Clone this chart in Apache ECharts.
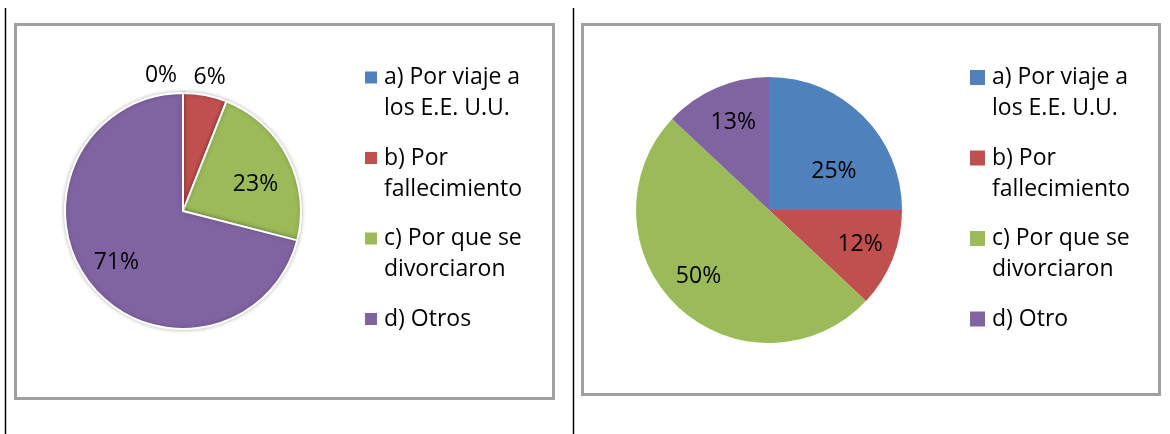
<!DOCTYPE html>
<html>
<head>
<meta charset="utf-8">
<script src="https://cdn.jsdelivr.net/npm/echarts@6/dist/echarts.min.js"></script>
<style>
  html, body { margin: 0; padding: 0; background: #fff; }
  #main { width: 1170px; height: 434px; }
</style>
</head>
<body>
<div id="main"></div>
<script>
// datos
const leftNames = ['a) Por viaje a\nlos E.E. U.U.', 'b) Por\nfallecimiento', 'c) Por que se\ndivorciaron', 'd) Otros'];
const leftValues = [0, 6, 23, 71];
const rightNames = ['a) Por viaje a\nlos E.E. U.U.', 'b) Por\nfallecimiento', 'c) Por que se\ndivorciaron', 'd) Otro'];
const rightValues = [25, 12, 50, 13];
const colors = ['#4F81BD', '#C0504D', '#9BBB59', '#8064A2'];

const FONT = '"Open Sans", sans-serif';

let myChart = echarts.init(document.getElementById('main'));

// leyenda con cuadrito de color en la primera linea
function makeLegend(names, left, sq) {
    let rich = {
        e: { width: sq },
        t: { fontFamily: FONT, fontSize: 23, lineHeight: 31, color: '#000', padding: [0, 0, 0, 7] }
    };
    colors.forEach((c, i) => {
        rich['s' + i] = { width: sq, height: sq, backgroundColor: c };
    });
    return {
        orient: 'vertical',
        left: left,
        top: 66,
        padding: 0,
        icon: 'none',
        itemWidth: 0,
        itemHeight: 10,
        itemGap: 26.5,
        selectedMode: false,
        data: names,
        formatter: function (name) {
            let idx = names.indexOf(name);
            return name.split('\n').map((l, i) => (i === 0 ? '{s' + idx + '|}' : '{e|}') + '{t|' + l + '}').join('\n');
        },
        textStyle: { rich: rich }
    };
}

// etiquetas: se mueven sobre el radio desde la posicion "inside" (r/2)
function moveLabels(center, factors, shiftX, shiftY) {
    return function (params) {
        let i = params.dataIndex;
        let r = params.labelRect;
        let lx = r.x + r.width / 2;
        let ly = r.y + r.height / 2;
        let k = factors[i] / 0.5;
        return {
            x: center[0] + (lx - center[0]) * k + shiftX[i],
            y: center[1] + (ly - center[1]) * k + shiftY[i],
            align: 'center',
            verticalAlign: 'middle'
        };
    };
}

const leftCenter = [183, 211];
const rightCenter = [769, 210];

let option = {
    animation: false,
    graphic: [
        { type: 'line', shape: { x1: 5.5, y1: 8, x2: 5.5, y2: 434 }, style: { stroke: '#000', lineWidth: 1.5 } },
        { type: 'line', shape: { x1: 573.5, y1: 8, x2: 573.5, y2: 434 }, style: { stroke: '#000', lineWidth: 1.5 } },
        { type: 'rect', shape: { x: 15.5, y: 24.5, width: 538, height: 374 }, style: { fill: 'none', stroke: '#a0a0a0', lineWidth: 3 } },
        { type: 'rect', shape: { x: 582.5, y: 24.5, width: 577, height: 370 }, style: { fill: 'none', stroke: '#a0a0a0', lineWidth: 3 } }
    ],
    legend: [
        makeLegend(leftNames, 360, 12),
        makeLegend(rightNames, 965, 15)
    ],
    series: [
        {
            name: 'izquierda',
            type: 'pie',
            center: leftCenter,
            radius: 118,
            startAngle: 90,
            clockwise: true,
            itemStyle: {
                borderColor: '#fff',
                borderWidth: 2,
                shadowBlur: 4,
                shadowColor: 'rgba(0,0,0,0.25)'
            },
            label: {
                position: 'inside',
                formatter: '{c}%',
                fontFamily: FONT,
                fontSize: 23,
                color: '#000'
            },
            labelLine: { show: false },
            labelLayout: moveLabels(leftCenter, [1.1, 1.1, 0.62, 0.68], [-22, 1, 4, 0], [1, 0, 8, 0]),
            emphasis: { disabled: true },
            data: leftNames.map((n, i) => ({ name: n, value: leftValues[i], itemStyle: { color: colors[i] } }))
        },
        {
            name: 'derecha',
            type: 'pie',
            center: rightCenter,
            radius: 133,
            startAngle: 90,
            clockwise: true,
            itemStyle: { borderWidth: 0 },
            label: {
                position: 'inside',
                formatter: '{c}%',
                fontFamily: FONT,
                fontSize: 23,
                color: '#000'
            },
            labelLine: { show: false },
            labelLayout: moveLabels(rightCenter, [0.62, 0.72, 0.72, 0.72], [4, -2, -2, 4], [22, -2, -7, 4]),
            emphasis: { disabled: true },
            data: rightNames.map((n, i) => ({ name: n, value: rightValues[i], itemStyle: { color: colors[i] } }))
        }
    ]
};

myChart.setOption(option);
</script>
</body>
</html>
